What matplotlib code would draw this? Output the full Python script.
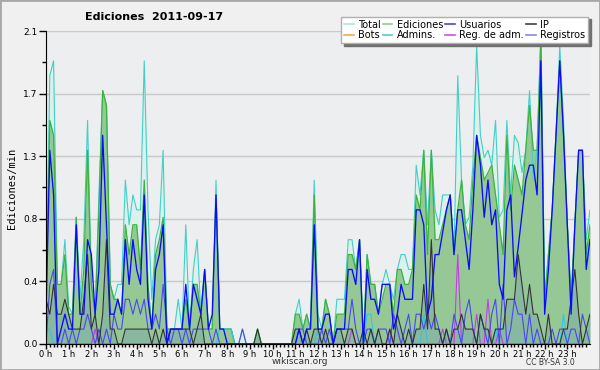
import numpy as np
import matplotlib
matplotlib.use("Agg")
import matplotlib.pyplot as plt
from matplotlib.lines import Line2D
from matplotlib.patches import Rectangle

# values every 10 minutes, 0:00 .. 24:00 (edits per minute)
total = [
    0.3, 1.8, 1.9, 0.4, 0.4, 0.7,
    0.25, 0.2, 0.85, 0.3, 0.7, 1.5,
    0.4, 0.2, 1.0, 1.7, 1.6, 0.4,
    0.3, 0.4, 0.4, 1.1, 0.8, 1.0,
    0.9, 0.9, 1.9, 0.9, 0.3, 0.7,
    0.8, 1.3, 0.1, 0.1, 0.1, 0.3,
    0.1, 0.8, 0.1, 0.5, 0.7, 0.2,
    0.5, 0.1, 0.1, 1.1, 0.1, 0.1,
    0.1, 0.1, 0.0, 0.0, 0.1, 0.0,
    0.0, 0.0, 0.1, 0.0, 0.0, 0.0,
    0.0, 0.0, 0.0, 0.0, 0.0, 0.0,
    0.2, 0.3, 0.1, 0.2, 0.1, 1.1,
    0.2, 0.1, 0.3, 0.2, 0.0, 0.3,
    0.3, 0.3, 0.7, 0.7, 0.5, 0.7,
    0.0, 0.6, 0.4, 0.4, 0.2, 0.4,
    0.5, 0.4, 0.3, 0.5, 0.6, 0.6,
    0.5, 0.5, 1.2, 1.0, 1.3, 0.8,
    1.3, 0.9, 0.8, 1.0, 1.0, 1.0,
    0.6, 1.8, 1.1, 0.8, 0.85, 1.2,
    2.0, 1.4, 1.25, 1.3, 1.2, 1.5,
    0.85, 0.9, 1.5, 1.0, 1.4, 1.35,
    1.15, 1.3, 1.7, 1.1, 1.3, 2.1,
    0.3, 0.6, 0.9, 1.4, 2.0, 1.5,
    0.8, 0.3, 0.8, 1.3, 1.3, 0.7,
    0.9,
]
ediciones = [
    0.3, 1.5, 1.4, 0.4, 0.4, 0.6,
    0.2, 0.2, 0.85, 0.2, 0.5, 1.3,
    0.4, 0.2, 0.9, 1.7, 1.6, 0.4,
    0.3, 0.3, 0.2, 0.8, 0.6, 0.8,
    0.8, 0.5, 1.1, 0.4, 0.1, 0.6,
    0.7, 0.85, 0.1, 0.1, 0.1, 0.1,
    0.1, 0.3, 0.1, 0.4, 0.4, 0.2,
    0.5, 0.1, 0.1, 1.0, 0.1, 0.1,
    0.1, 0.1, 0.0, 0.0, 0.0, 0.0,
    0.0, 0.0, 0.1, 0.0, 0.0, 0.0,
    0.0, 0.0, 0.0, 0.0, 0.0, 0.0,
    0.2, 0.2, 0.1, 0.2, 0.1, 1.0,
    0.1, 0.1, 0.3, 0.2, 0.0, 0.2,
    0.2, 0.2, 0.6, 0.6, 0.5, 0.7,
    0.0, 0.6, 0.4, 0.4, 0.2, 0.3,
    0.4, 0.4, 0.2, 0.5, 0.5, 0.4,
    0.4, 0.5, 1.0, 0.9, 1.3, 0.6,
    1.3, 0.7, 0.7, 0.8, 0.9, 1.0,
    0.6, 0.9, 1.1, 0.8, 0.7, 1.1,
    1.4, 1.25, 1.1, 1.15, 1.2, 1.0,
    0.8, 0.6, 1.4, 0.9, 1.2, 1.1,
    1.0, 1.3, 1.6, 1.3, 1.3, 2.05,
    0.3, 0.6, 0.9, 1.4, 1.9, 1.4,
    0.8, 0.3, 0.8, 1.3, 1.3, 0.6,
    0.8,
]
usuarios = [
    0.2, 1.3, 1.0, 0.0, 0.1, 0.2,
    0.1, 0.1, 0.8, 0.2, 0.2, 0.7,
    0.6, 0.2, 0.5, 1.4, 0.8, 0.2,
    0.2, 0.3, 0.2, 0.7, 0.4, 0.7,
    0.5, 0.4, 1.0, 0.3, 0.1, 0.5,
    0.6, 0.8, 0.0, 0.1, 0.1, 0.1,
    0.1, 0.4, 0.1, 0.4, 0.3, 0.2,
    0.5, 0.1, 0.2, 1.0, 0.1, 0.1,
    0.0, 0.0, 0.0, 0.0, 0.0, 0.0,
    0.0, 0.0, 0.0, 0.0, 0.0, 0.0,
    0.0, 0.0, 0.0, 0.0, 0.0, 0.0,
    0.0, 0.1, 0.0, 0.1, 0.1, 0.8,
    0.1, 0.1, 0.2, 0.2, 0.0, 0.1,
    0.1, 0.1, 0.5, 0.5, 0.4, 0.7,
    0.0, 0.5, 0.3, 0.3, 0.2, 0.4,
    0.4, 0.4, 0.1, 0.2, 0.4, 0.3,
    0.3, 0.3, 0.9, 0.9, 0.8, 0.2,
    0.3, 0.6, 0.6, 0.75, 0.9, 1.0,
    0.6, 0.9, 0.9, 0.7, 0.5, 0.9,
    1.4, 1.2, 0.85, 1.1, 0.8, 0.9,
    0.4, 0.3, 0.9, 1.0, 0.45, 0.65,
    0.87, 1.1, 1.2, 1.2, 1.0, 1.9,
    0.2, 0.5, 0.9, 1.4, 1.9, 1.4,
    0.8, 0.2, 0.8, 1.3, 1.3, 0.5,
    0.7,
]
ip = [
    0.3, 0.2, 0.4, 0.2, 0.2, 0.3,
    0.2, 0.1, 0.1, 0.1, 0.3, 0.6,
    0.1, 0.2, 0.0, 0.2, 0.7, 0.1,
    0.1, 0.0, 0.0, 0.1, 0.1, 0.1,
    0.1, 0.1, 0.1, 0.1, 0.0, 0.1,
    0.0, 0.1, 0.0, 0.1, 0.1, 0.1,
    0.1, 0.1, 0.1, 0.0, 0.1, 0.2,
    0.0, 0.0, 0.0, 0.0, 0.0, 0.0,
    0.0, 0.0, 0.0, 0.0, 0.0, 0.0,
    0.0, 0.0, 0.1, 0.0, 0.0, 0.0,
    0.0, 0.0, 0.0, 0.0, 0.0, 0.0,
    0.1, 0.1, 0.0, 0.1, 0.0, 0.1,
    0.1, 0.0, 0.1, 0.0, 0.0, 0.1,
    0.1, 0.0, 0.1, 0.1, 0.0, 0.0,
    0.1, 0.0, 0.1, 0.0, 0.1, 0.0,
    0.0, 0.1, 0.0, 0.2, 0.1, 0.0,
    0.1, 0.0, 0.1, 0.1, 0.4, 0.1,
    0.7, 0.1, 0.1, 0.0, 0.1, 0.0,
    0.1, 0.1, 0.2, 0.1, 0.1, 0.1,
    0.0, 0.2, 0.1, 0.1, 0.0, 0.1,
    0.1, 0.1, 0.3, 0.3, 0.3, 0.6,
    0.4, 0.2, 0.4, 0.2, 0.2, 0.1,
    0.0, 0.2, 0.0, 0.0, 0.0, 0.1,
    0.1, 0.3, 0.5, 0.2, 0.0, 0.1,
    0.2,
]
registros = [
    0.0, 0.4, 0.5, 0.0, 0.0, 0.1,
    0.0, 0.1, 0.0, 0.1, 0.1, 0.2,
    0.1, 0.0, 0.1, 0.0, 0.1, 0.0,
    0.2, 0.1, 0.1, 0.3, 0.3, 0.2,
    0.3, 0.2, 0.3, 0.1, 0.1, 0.2,
    0.1, 0.4, 0.1, 0.0, 0.1, 0.1,
    0.0, 0.1, 0.0, 0.1, 0.1, 0.1,
    0.1, 0.1, 0.0, 0.1, 0.0, 0.0,
    0.0, 0.0, 0.0, 0.0, 0.1, 0.0,
    0.0, 0.0, 0.0, 0.0, 0.0, 0.0,
    0.0, 0.0, 0.0, 0.0, 0.0, 0.0,
    0.0, 0.1, 0.1, 0.0, 0.0, 0.0,
    0.0, 0.1, 0.0, 0.1, 0.0, 0.1,
    0.1, 0.1, 0.1, 0.3, 0.1, 0.0,
    0.0, 0.1, 0.1, 0.0, 0.1, 0.1,
    0.1, 0.0, 0.2, 0.1, 0.0, 0.1,
    0.2, 0.0, 0.2, 0.2, 0.1, 0.2,
    0.1, 0.2, 0.1, 0.0, 0.1, 0.0,
    0.2, 0.1, 0.0, 0.2, 0.3, 0.1,
    0.0, 0.2, 0.1, 0.0, 0.2, 0.3,
    0.0, 0.4, 0.0, 0.1, 0.3, 0.2,
    0.2, 0.0, 0.2, 0.0, 0.1, 0.0,
    0.0, 0.0, 0.1, 0.0, 0.1, 0.1,
    0.0, 0.1, 0.1, 0.0, 0.2, 0.1,
    0.0,
]
admins = [
    0.1, 0.1, 0.0, 0.0, 0.0, 0.0,
    0.0, 0.0, 0.0, 0.0, 0.0, 0.0,
    0.0, 0.0, 0.0, 0.0, 0.0, 0.0,
    0.0, 0.0, 0.0, 0.0, 0.0, 0.0,
    0.0, 0.0, 0.0, 0.0, 0.0, 0.0,
    0.0, 0.0, 0.0, 0.0, 0.0, 0.0,
    0.0, 0.0, 0.0, 0.0, 0.0, 0.0,
    0.0, 0.0, 0.0, 0.0, 0.1, 0.1,
    0.1, 0.1, 0.0, 0.0, 0.0, 0.0,
    0.0, 0.0, 0.0, 0.0, 0.0, 0.0,
    0.0, 0.0, 0.0, 0.0, 0.0, 0.0,
    0.0, 0.0, 0.0, 0.0, 0.0, 0.0,
    0.1, 0.0, 0.0, 0.0, 0.0, 0.0,
    0.0, 0.0, 0.0, 0.0, 0.0, 0.0,
    0.0, 0.2, 0.2, 0.0, 0.0, 0.0,
    0.0, 0.0, 0.0, 0.0, 0.0, 0.0,
    0.0, 0.0, 0.0, 0.0, 0.2, 0.0,
    0.0, 0.0, 0.0, 0.0, 0.0, 0.0,
    0.0, 0.0, 0.0, 0.0, 0.0, 0.0,
    0.0, 0.0, 0.0, 0.0, 0.0, 0.1,
    0.0, 0.0, 0.0, 0.0, 0.0, 0.0,
    0.0, 0.0, 0.0, 0.0, 0.0, 0.0,
    0.0, 0.0, 0.0, 0.0, 0.0, 0.2,
    0.0, 0.0, 0.0, 0.0, 0.0, 0.0,
    0.0,
]
reg_adm = [0.0] * 145
for i, v in [(13, 0.1), (81, 0.1), (91, 0.1), (105, 0.1), (109, 0.6),
             (114, 0.2), (117, 0.3), (120, 0.1)]:
    reg_adm[i] = v
bots = [0.0] * 145

hour_labels = [f"{h} h" for h in range(24)]
y_ticks = [0.0, 0.42, 0.84, 1.26, 1.68, 2.1]
y_labels = ["0.0", "0.4", "0.8", "1.3", "1.7", "2.1"]

x = np.arange(len(total)) / 6.0

fig = plt.figure(figsize=(6, 3.7), dpi=100, facecolor="#f0f0f0")
ax = fig.add_axes([0.0767, 0.0703, 0.9066, 0.8459])
ax.set_facecolor("#eceef0")

ax.fill_between(x, total, color="#ddf1ec", lw=0)
ax.fill_between(x, ediciones, color="#96c896", lw=0)
ax.fill_between(x, ip, color="#5078c8", alpha=0.2, lw=0)

ax.plot(x, total, color="#40d0c8", lw=0.8)
ax.plot(x, ediciones, color="#3cb43c", lw=0.9)
ax.plot(x, bots, color="#f0a040", lw=0.8)
ax.plot(x, admins, color="#30c8dc", lw=0.8)
ax.plot(x, reg_adm, color="#c040e0", lw=0.8)
ax.plot(x, registros, color="#4848f0", lw=0.8)
ax.plot(x, ip, color="#333333", lw=0.8)
ax.plot(x, usuarios, color="#0a0aff", lw=0.95)

ax.set_xlim(0, 24)
ax.set_ylim(0, 2.1)
ax.set_xticks(range(24))
ax.set_xticklabels(hour_labels, fontsize=6)
ax.set_xticks(np.arange(0, 24, 1 / 6.0), minor=True)
ax.set_yticks(y_ticks)
ax.set_yticklabels(y_labels, fontsize=6.5)
ax.set_yticks([0.21, 0.63, 1.05, 1.47, 1.89], minor=True)
ax.tick_params(axis="x", which="major", length=3.5, width=1, pad=0.5)
ax.tick_params(axis="x", which="minor", length=2.5, width=1)
ax.tick_params(axis="y", which="major", length=5, width=1, pad=1)
ax.tick_params(axis="y", which="minor", length=3, width=1)
ax.grid(axis="y", color="#c8c8c8", lw=1)
ax.set_axisbelow(True)
for s in ["top", "right"]:
    ax.spines[s].set_visible(False)

fig.text(0.257, 0.955, "Ediciones  2011-09-17", ha="center", va="center",
         fontsize=8, fontweight="bold")
fig.text(0.02, 0.49, "Ediciones/min", rotation=90, ha="center", va="center",
         fontsize=7.5, family="DejaVu Sans Mono")
fig.text(0.5, 0.022, "wikiscan.org", ha="center", va="center", fontsize=6.5, color="#333333")
fig.text(0.917, 0.02, "CC BY-SA 3.0", ha="center", va="center", fontsize=5.5, color="#333333")

handles = [
    Line2D([], [], color="#a8e8e0", lw=1.2, label="Total"),
    Line2D([], [], color="#f8a848", lw=1.2, label="Bots"),
    Line2D([], [], color="#88d088", lw=1.2, label="Ediciones"),
    Line2D([], [], color="#50c8e0", lw=1.2, label="Admins."),
    Line2D([], [], color="#4848e0", lw=1.2, label="Usuarios"),
    Line2D([], [], color="#d050e8", lw=1.2, label="Reg. de adm."),
    Line2D([], [], color="#404040", lw=1.2, label="IP"),
    Line2D([], [], color="#8888f0", lw=1.2, label="Registros"),
]
fig.legend(handles=handles, ncol=4, loc="upper right", bbox_to_anchor=(0.988, 0.968),
           fontsize=7, handlelength=1.0, handletextpad=0.45, columnspacing=0.2,
           labelspacing=0.05, borderpad=0.3, fancybox=False, framealpha=1,
           edgecolor="#b0b0b0", shadow={"color": "#707070", "alpha": 1})

fig.add_artist(Rectangle((0, 0), 1, 1, transform=fig.transFigure, fill=False,
                         edgecolor="#a8a8a8", lw=2))

fig.savefig("out.png", dpi=100, facecolor=fig.get_facecolor())
